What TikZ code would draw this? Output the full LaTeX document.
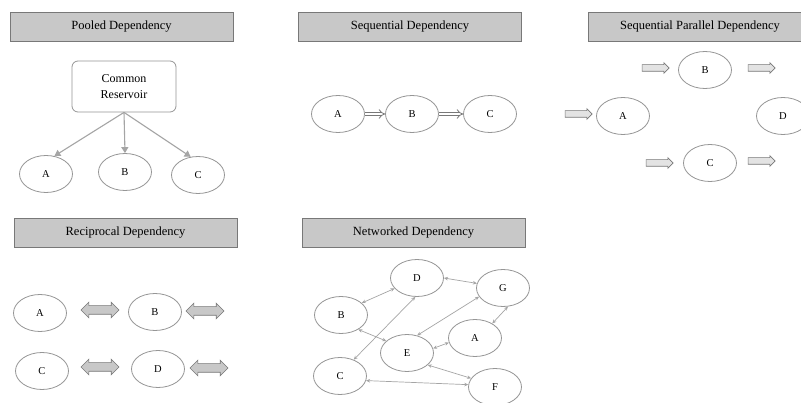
\documentclass[tikz,border=0pt]{standalone}
\usepackage{fontspec}
\setmainfont{Liberation Serif}
\usetikzlibrary{shapes.geometric,shapes.arrows,arrows.meta}
\definecolor{hdrfill}{RGB}{200,200,200}
\definecolor{hdrline}{RGB}{120,120,120}
\definecolor{ovalline}{RGB}{150,150,150}
\definecolor{arrgray}{RGB}{165,165,165}
\begin{document}
\begin{tikzpicture}[x=1pt,y=-1pt,
  hdr/.style={draw=hdrline, fill=hdrfill, line width=0.9pt, minimum width=223pt, minimum height=29pt, inner sep=0pt, font=\fontsize{12.5}{14}\selectfont},
  oval/.style={ellipse, draw=ovalline, line width=0.8pt, minimum width=53pt, minimum height=37pt, inner sep=0pt, font=\fontsize{10.5}{12}\selectfont},
  resbox/.style={draw=ovalline, line width=0.8pt, rounded corners=6pt, minimum width=104pt, minimum height=51pt, align=center, font=\fontsize{12}{16}\selectfont},
  pool/.style={draw=arrgray, line width=1.1pt, -{Triangle[length=6pt,width=7pt]}},
  seqconn/.style={draw=hdrline, double=white, double distance=2.5pt, line width=0.8pt, -{Implies}},
  fwd/.style={single arrow, draw=hdrline, fill=gray!22, line width=0.6pt, minimum height=27pt, inner sep=0pt, text height=3pt, text depth=3pt, single arrow head extend=2pt},
  rec/.style={double arrow, draw=hdrline, fill=hdrfill, line width=0.6pt, minimum height=38pt, inner sep=0pt, text height=4pt, text depth=4pt, double arrow head extend=3.5pt},
  net/.style={draw=arrgray, line width=0.7pt, {Stealth[length=4pt,width=3.5pt]}-{Stealth[length=4pt,width=3.5pt]}}
]
\useasboundingbox (0,0) rectangle (801,403);
\fill[white] (0,0) rectangle (801,403);

% headers
\node[hdr] (h1) at (121.5,27) {Pooled Dependency};
\node[hdr] (h2) at (410,27) {Sequential Dependency};
\node[hdr, minimum width=224pt] (h3) at (700,27) {Sequential Parallel Dependency};
\node[hdr] (h4) at (125.5,233) {Reciprocal Dependency};
\node[hdr] (h5) at (413.5,233) {Networked Dependency};

% pooled
\node[resbox] (res) at (124,86.5) {Common\\Reservoir};
\node[oval] (pA) at (46,174) {A};
\node[oval] (pB) at (125,172) {B};
\node[oval] (pC) at (198,175) {C};
\draw[pool] (res.south) -- (pA.65);
\draw[pool] (res.south) -- (pB.north);
\draw[pool] (res.south) -- (pC.112);

% sequential
\node[oval] (sA) at (338,114) {A};
\node[oval] (sB) at (412,114) {B};
\node[oval] (sC) at (490,114) {C};
\draw[seqconn] (sA) -- (sB);
\draw[seqconn] (sB) -- (sC);

% sequential parallel
\node[oval] (qA) at (623,116) {A};
\node[oval] (qB) at (705,70) {B};
\node[oval] (qC) at (710,163) {C};
\node[oval] (qD) at (783,116) {D};
\node[fwd] (f1) at (577,114) {};
\node[fwd] (f2) at (654,68) {};
\node[fwd] (f3) at (760,68) {};
\node[fwd] (f4) at (658,163) {};
\node[fwd] (f5) at (760,161) {};

% reciprocal
\node[oval] (rA) at (40,313) {A};
\node[oval] (rB) at (155,312) {B};
\node[oval] (rC) at (42,371) {C};
\node[oval] (rD) at (158,369) {D};
\node[rec] (r1) at (100,310) {};
\node[rec] (r2) at (205,311) {};
\node[rec] (r3) at (100,367) {};
\node[rec] (r4) at (209,368) {};

% networked
\node[oval] (nD) at (417,278) {D};
\node[oval] (nG) at (503,288) {G};
\node[oval] (nB) at (341,315) {B};
\node[oval] (nA) at (475,338) {A};
\node[oval] (nE) at (407,353) {E};
\node[oval] (nC) at (340,376) {C};
\node[oval] (nF) at (495,387) {F};
\draw[net] (nB.30) -- (nD.205);
\draw[net] (nD.east) -- (nG.170);
\draw[net] (nC.50) -- (nD.-95);
\draw[net] (nE.60) -- (nG.200);
\draw[net] (nA.40) -- (nG.-75);
\draw[net] (nA.190) -- (nE.10);
\draw[net] (nB.-40) -- (nE.150);
\draw[net] (nE.-30) -- (nF.160);
\draw[net] (nC.-10) -- (nF.175);
\end{tikzpicture}
\end{document}
